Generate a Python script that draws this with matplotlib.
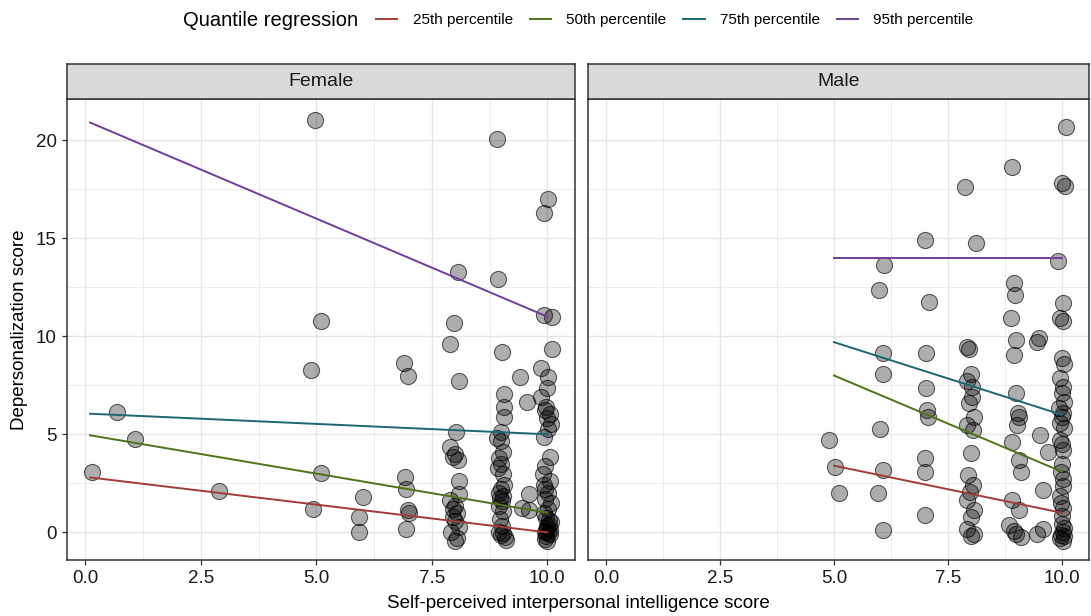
import matplotlib
matplotlib.use('Agg')
import matplotlib.pyplot as plt
from matplotlib.lines import Line2D
from matplotlib.ticker import FixedLocator, FormatStrFormatter

plt.rcParams['font.family'] = ['Liberation Sans', 'DejaVu Sans']

# ---------------- data ----------------
panels = ['Female', 'Male']

female_x = [4.98, 8.91, 10.02, 9.93, 8.07, 8.93, 5.1, 7.98, 9.93, 10.1, 7.89, 9.03, 10.1,
            4.88, 6.89, 6.99, 8.08, 9.86, 10.02, 10.0, 9.4, 9.07, 9.55, 9.07, 9.07, 9.86,
            9.95, 10.05, 10.0, 10.08, 9.98, 10.02, 9.93,
            8.91, 9.0, 8.03,
            0.69, 1.08, 0.15, 2.9, 5.1, 4.92, 6.01, 5.92, 5.92, 6.91, 6.95, 6.99, 7.0, 6.93,
            7.89, 8.0, 8.07, 7.95, 8.08, 8.08, 7.89, 8.0, 7.95, 8.05, 7.95, 8.0, 8.08, 7.92, 8.05, 8.0,
            9.0, 9.05, 8.95, 9.0, 8.93, 9.05, 9.07, 9.0, 8.95, 9.05, 8.98, 9.02, 8.95, 9.05, 8.98,
            9.02, 8.95, 9.05, 9.0, 9.08, 9.1,
            9.6, 9.45, 9.6,
            10.05, 9.95, 9.9, 9.93, 10.02, 9.95, 10.02, 9.97, 10.08, 10.0, 10.02, 9.96, 10.05,
            9.98, 10.03, 9.94, 10.06, 10.0, 9.99, 10.04, 9.92, 10.07, 9.95, 10.05, 9.98]
female_y = [21.04, 20.07, 17.0, 16.3, 13.27, 12.9, 10.78, 10.7, 11.1, 10.97, 9.62, 9.18, 9.37,
            8.28, 8.62, 7.97, 7.74, 8.37, 7.94, 7.35, 7.94, 7.06, 6.67, 6.41, 5.87, 6.92,
            6.25, 6.05, 5.85, 5.55, 6.4, 5.27, 4.88,
            4.8, 5.13, 5.13,
            6.15, 4.74, 3.06, 2.1, 3.04, 1.17, 1.82, 0.8, 0.03, 2.84, 2.2, 1.14, 1.0, 0.15,
            4.33, 4.0, 3.7, 3.85, 2.6, 1.95, 1.65, 1.35, 1.2, 1.0, 0.8, 0.6, 0.25, 0.0, -0.3, -0.45,
            4.65, 4.1, 3.8, 3.5, 3.3, 3.0, 2.41, 2.2, 2.0, 1.85, 1.75, 1.6, 1.35, 1.1, 0.7,
            0.3, 0.04, -0.05, -0.15, -0.25, -0.4,
            1.94, 1.25, 1.15,
            3.86, 3.4, 3.0, 2.4, 2.0, 1.7, 1.2, 0.75, 0.55, 0.2, -0.05, -0.35, 0.1,
            -0.2, 0.4, 0.0, -0.1, 0.3, -0.45, 0.65, 1.0, 1.5, 2.2, 2.6, 0.05]

male_x = [4.9, 5.03, 5.1,
          6.1, 6.0, 6.07, 6.07, 6.01, 6.07, 5.96, 6.07,
          7.0, 7.09, 7.02, 7.03, 7.05, 7.07, 7.0, 7.0, 7.01,
          7.88, 8.11, 7.93, 7.97, 8.0, 7.93, 8.04, 8.04, 7.97, 8.08, 7.93, 8.05, 8.0, 7.95,
          8.05, 7.98, 7.93, 8.07, 8.0, 7.93, 8.07, 8.02,
          8.9, 8.95, 8.97, 8.89, 9.0, 8.95, 9.0, 9.05, 9.06, 9.03, 8.91, 9.06, 9.1, 8.91,
          9.06, 8.85, 9.0, 9.1, 8.95,
          9.51, 9.46, 9.52, 9.7, 9.6, 9.6, 9.45,
          10.09, 10.0, 10.08, 9.93, 10.04, 9.96, 10.02, 10.0, 10.05, 9.97, 10.03, 10.0, 10.06,
          9.95, 10.02, 10.0, 10.05, 9.96, 10.03, 10.0, 9.98, 10.04, 9.97, 10.02, 10.0, 10.05,
          9.98, 10.02, 10.04, 9.96, 10.0, 10.06, 9.99, 10.03, 10.0, 9.97]
male_y = [4.71, 3.35, 1.99,
          13.64, 12.36, 9.16, 8.06, 5.29, 3.2, 1.99, 0.1,
          14.9, 11.77, 9.16, 7.35, 6.24, 5.9, 3.78, 3.1, 0.88,
          17.63, 14.78, 9.44, 9.35, 8.1, 7.7, 7.4, 6.9, 6.6, 5.9, 5.47, 5.2, 4.03, 2.92,
          2.41, 2.07, 1.64, 1.13, 0.79, 0.19, -0.06, -0.2,
          18.65, 12.73, 12.1, 10.95, 9.81, 9.05, 7.09, 6.07, 5.9, 5.47, 4.62, 3.7, 3.1, 1.64,
          1.13, 0.36, -0.06, -0.23, 0.05,
          9.9, 9.7, 4.96, 4.1, 2.15, 0.19, -0.06,
          20.66, 17.8, 17.67, 13.86, 11.68, 10.92, 10.8, 8.88, 8.6, 7.86, 7.43, 7.09, 6.66,
          6.32, 6.07, 5.9, 5.3, 4.7, 4.2, 3.5, 3.1, 2.34, 1.83, 1.24, 0.81, 0.22,
          -0.12, -0.46, 0.0, -0.3, 0.45, -0.2, 1.5, 2.7, 4.5, 5.6]

quantile_labels = ['25th percentile', '50th percentile', '75th percentile', '95th percentile']
quantile_colors = ['#A23B3B', '#4E7418', '#1D6770', '#6E3F9E']

# fitted quantile lines: x range and fitted values at both ends
female_fit_x = [0.1, 10.0]
female_fit_start = [2.8, 4.95, 6.05, 20.9]
female_fit_end = [0.0, 1.0, 5.0, 11.0]
male_fit_x = [5.0, 10.0]
male_fit_start = [3.4, 8.0, 9.7, 14.0]
male_fit_end = [1.0, 3.1, 6.0, 14.0]

x_ticks = [0, 2.5, 5, 7.5, 10]
y_ticks = [0, 5, 10, 15, 20]

# ---------------- figure ----------------
W, H = 1091, 616
fig = plt.figure(figsize=(W / 100, H / 100), dpi=100)

def fx(px):
    return px / W

def fy(py):
    return 1 - py / H

panel_bottom, panel_top = 560, 99
strip_top = 64
panel_lr = [(67, 575), (588, 1089)]

border_col = '#333333'
grid_col = '#E6E6E6'

data = [(female_x, female_y, female_fit_x, female_fit_start, female_fit_end),
        (male_x, male_y, male_fit_x, male_fit_start, male_fit_end)]

for i, (name, (l, r), d) in enumerate(zip(panels, panel_lr, data)):
    xs, ys, fitx, fs, fe = d
    ax = fig.add_axes([fx(l), fy(panel_bottom), (r - l) / W, (panel_bottom - panel_top) / H])
    ax.set_xlim(-0.4, 10.6)
    ax.set_ylim(-1.41, 22.1)
    ax.xaxis.set_major_locator(FixedLocator(x_ticks))
    ax.yaxis.set_major_locator(FixedLocator(y_ticks))
    ax.xaxis.set_minor_locator(FixedLocator([1.25, 3.75, 6.25, 8.75]))
    ax.yaxis.set_minor_locator(FixedLocator([2.5, 7.5, 12.5, 17.5]))
    ax.xaxis.set_major_formatter(FormatStrFormatter('%.1f'))
    ax.grid(True, which='major', color=grid_col, linewidth=1.0)
    ax.grid(True, which='minor', color=grid_col, linewidth=0.5)
    ax.set_axisbelow(True)
    for s in ax.spines.values():
        s.set_color(border_col)
        s.set_linewidth(1.1)
    ax.tick_params(which='minor', length=0)
    ax.tick_params(which='major', length=3.5, width=0.9, color=border_col,
                   labelsize=13.5, labelcolor='#1A1A1A', pad=4)
    if i == 1:
        ax.tick_params(axis='y', which='both', length=0, labelleft=False)

    ax.scatter(xs, ys, s=135, facecolor=(0, 0, 0, 0.32), edgecolor=(0, 0, 0, 0.6),
               linewidth=0.8, zorder=2)
    for k in range(len(quantile_labels)):
        ax.plot(fitx, [fs[k], fe[k]], color=quantile_colors[k], linewidth=1.4, zorder=3)

    # facet strip
    sax = fig.add_axes([fx(l), fy(panel_top), (r - l) / W, (panel_top - strip_top) / H])
    sax.set_facecolor('#D9D9D9')
    sax.set_xticks([])
    sax.set_yticks([])
    for s in sax.spines.values():
        s.set_color(border_col)
        s.set_linewidth(1.1)
    sax.text(0.5, 0.5, name, ha='center', va='center', fontsize=14, color='#1A1A1A',
             transform=sax.transAxes)

fig.text(fx(20), fy(329.5), 'Depersonalization score', rotation=90, ha='center', va='center',
         fontsize=13.5, color='black')
fig.text(fx(578), fy(604), 'Self-perceived interpersonal intelligence score', ha='center',
         va='center', fontsize=13.5, color='black')

# legend
fig.text(fx(183), fy(20), 'Quantile regression', ha='left', va='center', fontsize=14.5,
         color='black')
handles = [Line2D([0], [0], color=c, linewidth=1.4) for c in quantile_colors]
fig.legend(handles, quantile_labels, loc='center left', bbox_to_anchor=(fx(376), fy(20)),
           ncol=4, frameon=False, fontsize=11, handlelength=1.4, handletextpad=1.0,
           columnspacing=1.1, borderpad=0, borderaxespad=0)

fig.savefig('out.png', dpi=100)
